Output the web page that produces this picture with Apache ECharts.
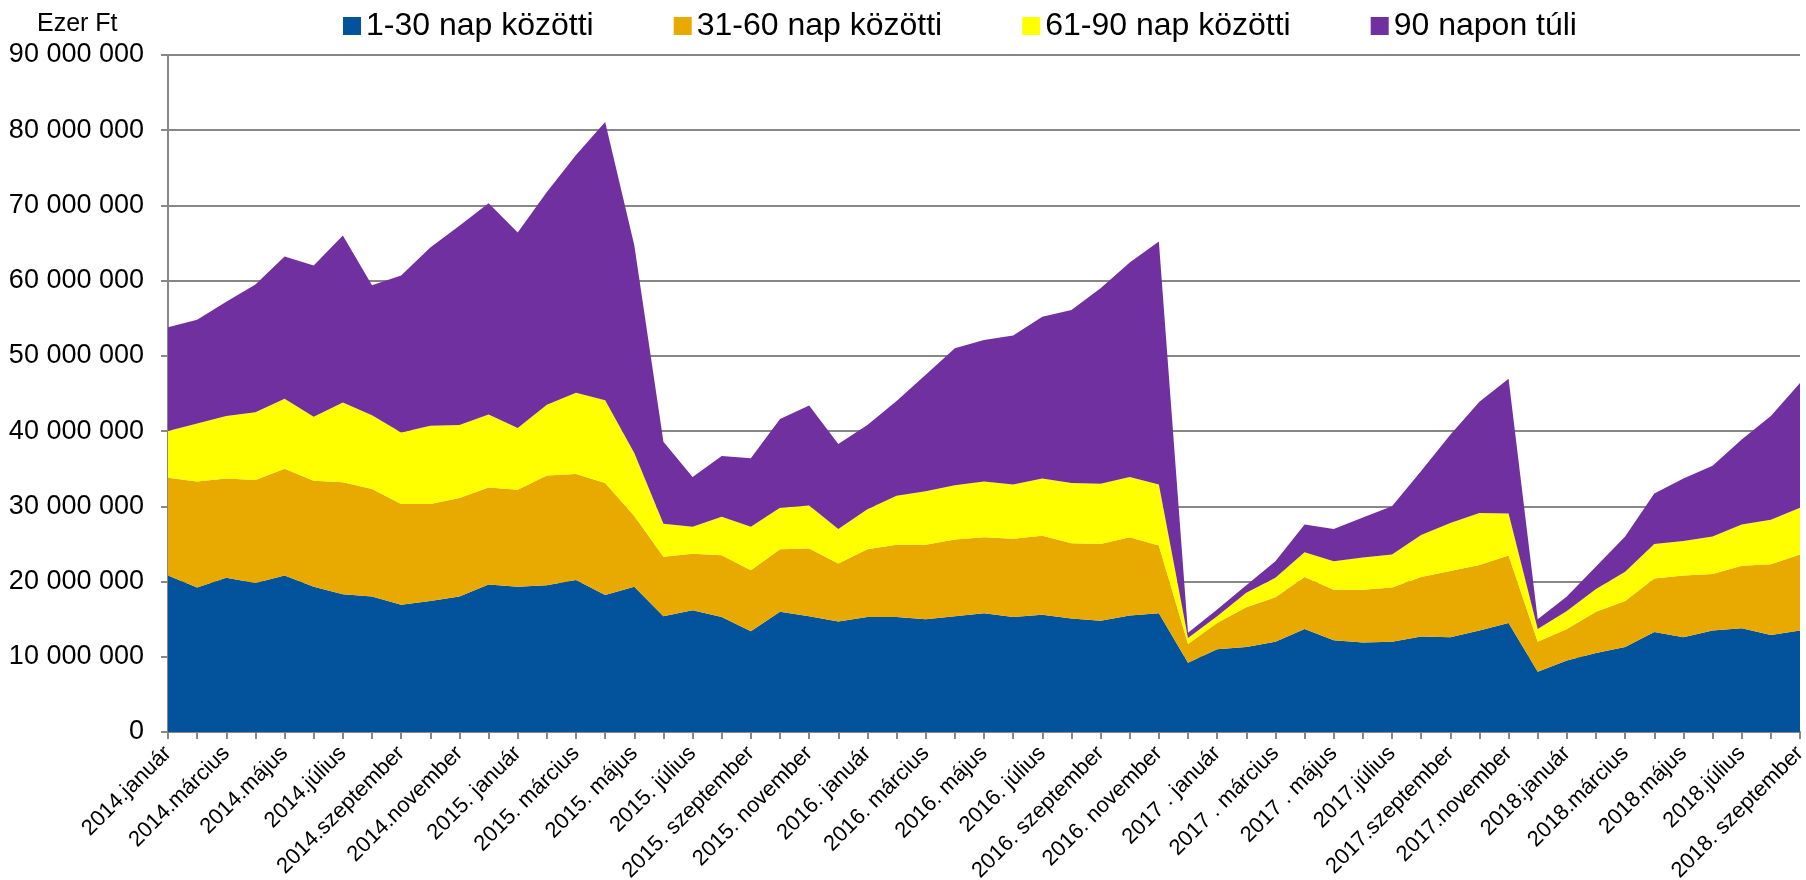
<!DOCTYPE html>
<html>
<head>
<meta charset="utf-8">
<title>Kintlévőségek lejárat szerint</title>
<script src="https://cdn.jsdelivr.net/npm/echarts@6/dist/echarts.min.js"></script>
<style>
  html, body { margin: 0; padding: 0; background: #fff; }
  #chart { width: 1806px; height: 880px; }
</style>
</head>
<body>
<div id="chart"></div>
<script>
// honapok (minden masodik cimke latszik)
const months = [
  '2014.január', '2014.február', '2014.március', '2014.április', '2014.május', '2014.június',
  '2014.július', '2014.augusztus', '2014.szeptember', '2014.október', '2014.november', '2014.december',
  '2015. január', '2015. február', '2015. március', '2015. április', '2015. május', '2015. június',
  '2015. július', '2015. augusztus', '2015. szeptember', '2015. október', '2015. november', '2015. december',
  '2016. január', '2016. február', '2016. március', '2016. április', '2016. május', '2016. június',
  '2016. július', '2016. augusztus', '2016. szeptember', '2016. október', '2016. november', '2016. december',
  '2017 . január', '2017 . február', '2017 . március', '2017 . április', '2017 . május', '2017 . június',
  '2017.július', '2017.augusztus', '2017.szeptember', '2017.október', '2017.november', '2017.december',
  '2018.január', '2018.február', '2018.március', '2018.április', '2018.május', '2018.június',
  '2018.július', '2018.augusztus', '2018. szeptember'
]

// ertekek millio Ezer Ft-ban
const days1to30 = [
  20.8, 19.2, 20.5, 19.8, 20.8, 19.3, 18.3, 18.0, 16.9, 17.4, 18.0, 19.6, 19.3, 19.5, 20.2,
  18.2, 19.3, 15.4, 16.2, 15.3, 13.4, 16.0, 15.4, 14.7, 15.3, 15.3, 15.0, 15.4, 15.8, 15.3,
  15.6, 15.1, 14.8, 15.5, 15.8, 9.2, 11.0, 11.3, 12.0, 13.7, 12.2, 11.9, 12.0, 12.7, 12.6,
  13.5, 14.5, 8.0, 9.5, 10.5, 11.3, 13.3, 12.6, 13.5, 13.8, 12.9, 13.5
]
const days31to60 = [
  13.0, 14.1, 13.2, 13.7, 14.2, 14.1, 14.9, 14.3, 13.4, 12.9, 13.1, 12.9, 12.9, 14.6, 14.1,
  14.9, 9.4, 7.9, 7.5, 8.2, 8.1, 8.3, 9.0, 7.7, 9.0, 9.6, 9.9, 10.2, 10.1, 10.4,
  10.5, 10.0, 10.2, 10.4, 9.0, 2.5, 3.5, 5.3, 5.9, 6.9, 6.7, 7.0, 7.2, 7.9, 8.8,
  8.7, 8.95, 4.0, 4.2, 5.5, 6.1, 7.1, 8.2, 7.5, 8.3, 9.4, 10.1
]
const days61to90 = [
  6.2, 7.7, 8.3, 9.0, 9.3, 8.5, 10.6, 9.8, 9.5, 10.4, 9.7, 9.7, 8.2, 9.4, 10.8,
  11.0, 8.4, 4.4, 3.6, 5.1, 5.8, 5.5, 5.7, 4.6, 5.3, 6.5, 7.1, 7.2, 7.4, 7.2,
  7.6, 8.0, 8.0, 8.0, 8.1, 0.8, 0.9, 1.9, 2.6, 3.3, 3.8, 4.3, 4.4, 5.6, 6.4,
  6.9, 5.6, 1.7, 2.4, 3.0, 3.9, 4.6, 4.6, 5.0, 5.5, 5.9, 6.2
]
const over90 = [
  13.8, 13.8, 15.2, 17.0, 18.9, 20.1, 22.2, 17.3, 20.9, 23.7, 26.5, 28.1, 26.0, 28.3, 31.6,
  37.0, 27.6, 10.9, 6.6, 8.1, 9.1, 11.8, 13.3, 11.3, 11.2, 12.6, 15.5, 18.2, 18.8, 19.8,
  21.5, 23.0, 26.0, 28.5, 32.3, 0.7, 0.9, 1.0, 2.2, 3.7, 4.3, 5.3, 6.4, 8.5, 11.7,
  14.8, 17.9, 1.3, 1.9, 3.0, 4.7, 6.7, 8.3, 9.4, 11.3, 13.8, 16.6
]

const seriesNames = ['1-30 nap közötti', '31-60 nap közötti', '61-90 nap közötti', '90 napon túli']
const seriesColors = ['#02529c', '#e8aa00', '#ffff00', '#7030a0']

const fontFamily = '"Liberation Sans", Arial, sans-serif'
const gray = '#878787'

const toFt = arr => arr.map(v => Math.round(v * 1000000))
const formatNum = v => String(v).replace(/\B(?=(\d{3})+(?!\d))/g, ' ')

const chart = echarts.init(document.getElementById('chart'))

const series = [days1to30, days31to60, days61to90, over90].map((arr, i) => {
  return {
    name: seriesNames[i],
    type: 'line',
    stack: 'total',
    data: toFt(arr),
    symbol: 'none',
    lineStyle: { width: 0 },
    areaStyle: { color: seriesColors[i], opacity: 1 },
    itemStyle: { color: seriesColors[i] },
    emphasis: { disabled: true },
    animation: false
  }
})

chart.setOption({
  animation: false,
  textStyle: { fontFamily: fontFamily },
  title: {
    text: 'Ezer Ft',
    left: 32,
    top: 7,
    textStyle: { fontSize: 25, fontWeight: 'normal', color: '#000', fontFamily: fontFamily }
  },
  legend: {
    left: 338,
    top: 5,
    icon: 'rect',
    itemWidth: 18,
    itemHeight: 18,
    itemGap: 80,
    textStyle: { fontSize: 32, color: '#000', fontFamily: fontFamily },
    data: seriesNames
  },
  grid: {
    left: 168,
    right: 6,
    top: 55,
    bottom: 148,
    outerBoundsMode: 'none'
  },
  xAxis: {
    type: 'category',
    boundaryGap: false,
    data: months,
    axisLine: { lineStyle: { color: gray, width: 2 } },
    axisTick: { show: true, interval: 0, length: 7, lineStyle: { color: gray, width: 2 } },
    axisLabel: {
      interval: 1,
      rotate: 45,
      margin: 18,
      fontSize: 22,
      color: '#000',
      fontFamily: fontFamily
    }
  },
  yAxis: {
    type: 'value',
    min: 0,
    max: 90000000,
    interval: 10000000,
    axisLine: { show: true, lineStyle: { color: gray, width: 2 } },
    axisTick: { show: true, length: 7, lineStyle: { color: gray, width: 2 } },
    splitLine: { lineStyle: { color: gray, width: 2 } },
    axisLabel: {
      margin: 24,
      fontSize: 27,
      color: '#000',
      fontFamily: fontFamily,
      formatter: formatNum
    }
  },
  series: series
})
</script>
</body>
</html>
